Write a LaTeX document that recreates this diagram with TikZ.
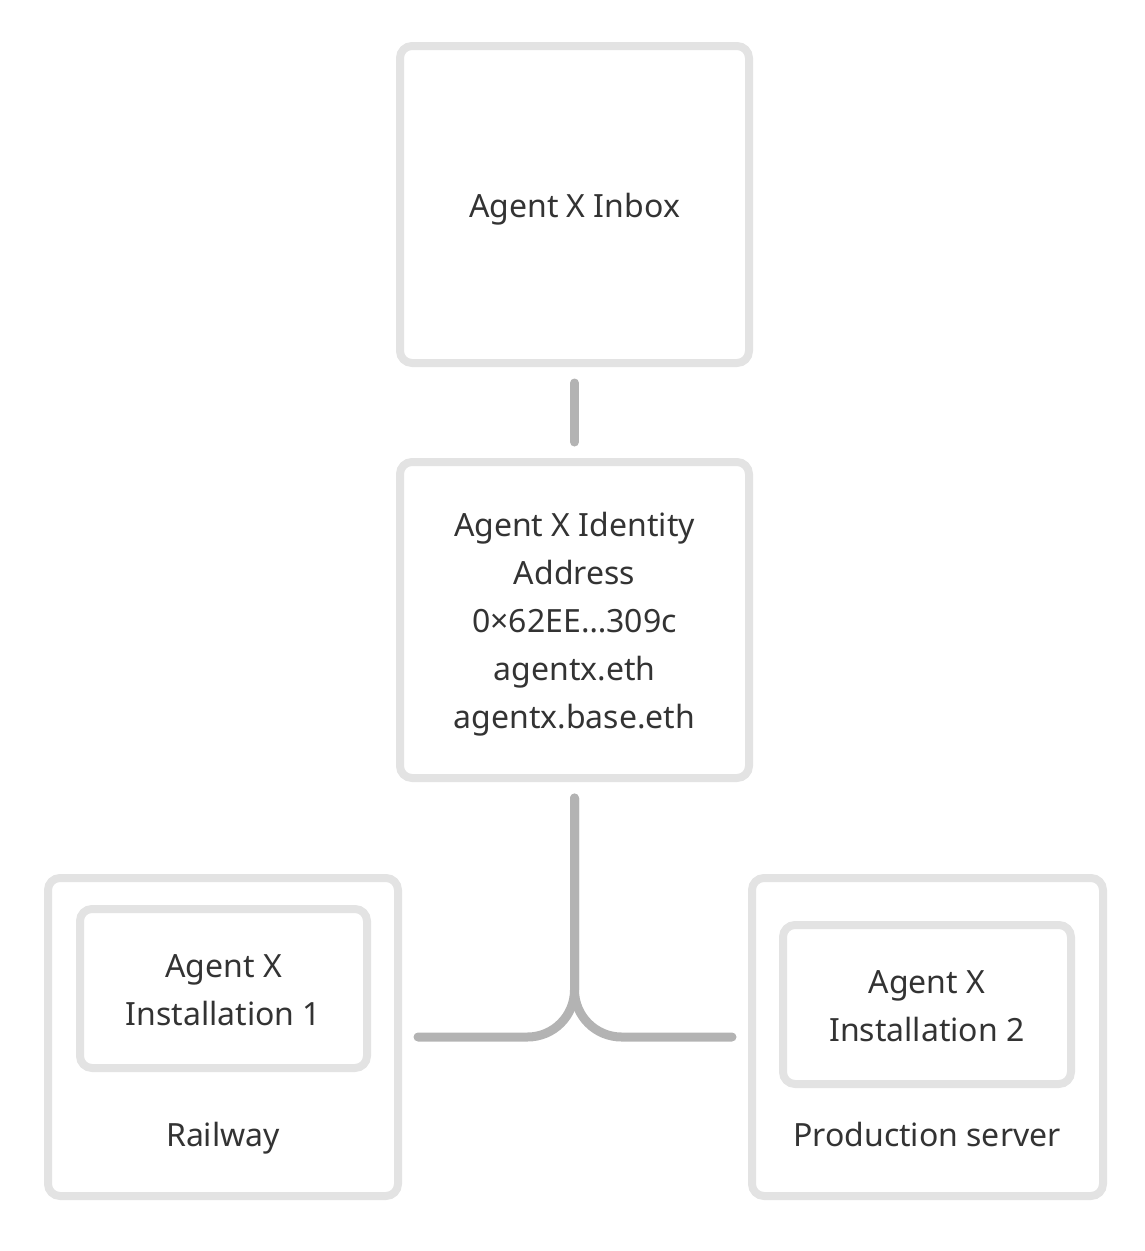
\documentclass[tikz,border=0pt]{standalone}
\usepackage{fontspec}
\setmainfont{Noto Sans}
\definecolor{boxgray}{HTML}{E3E3E3}
\definecolor{linegray}{HTML}{B3B3B3}
\definecolor{textgray}{HTML}{333333}
\newcommand{\textstrut}{\rule[-11pt]{0pt}{47pt}}
\begin{document}
\begin{tikzpicture}[x=1pt,y=-1pt]

\tikzstyle{boxnode} = [draw=boxgray,line width=8pt,rounded corners=12pt,inner sep=0pt];
\tikzstyle{textnode} = [text=textgray,align=center,font=\fontsize{32}{48}\selectfont,inner sep=0pt,execute at end node=\textstrut];
\tikzstyle{linkline} = [draw=linegray,line width=9pt,line cap=round,shorten >=16pt,shorten <=16pt];

\useasboundingbox (0,0) rectangle (1144,1251);

\node [boxnode,textnode,minimum width=349pt,minimum height=317pt] (inbox) at (574.5,204.5) {\textstrut Agent X Inbox};
\node [boxnode,textnode,minimum width=349pt,minimum height=316pt] (identity) at (574.5,620) {\textstrut Agent X Identity\\Address\\0×62EE…309c\\agentx.eth\\agentx.base.eth};

\node [boxnode,minimum width=350pt,minimum height=318pt] (railway) at (223,1037) {};
\node [boxnode,textnode,minimum width=287pt,minimum height=159pt] (install1) at (223.5,988.5) {\textstrut Agent X\\Installation 1};
\node [textnode] (railwaylabel) at (223,1134) {\textstrut Railway};

\node [boxnode,minimum width=351pt,minimum height=318pt] (production) at (927.5,1037) {};
\node [boxnode,textnode,minimum width=288pt,minimum height=159pt] (install2) at (927,1004.5) {\textstrut Agent X\\Installation 2};
\node [textnode] (productionlabel) at (927,1134) {\textstrut Production server};

\draw [linkline] (inbox.south) -- (identity.north);
\draw [linkline,rounded corners=47pt] (identity.south) |- (railway.east);
\draw [linkline,rounded corners=47pt] (identity.south) |- (production.west);

\end{tikzpicture}
\end{document}
